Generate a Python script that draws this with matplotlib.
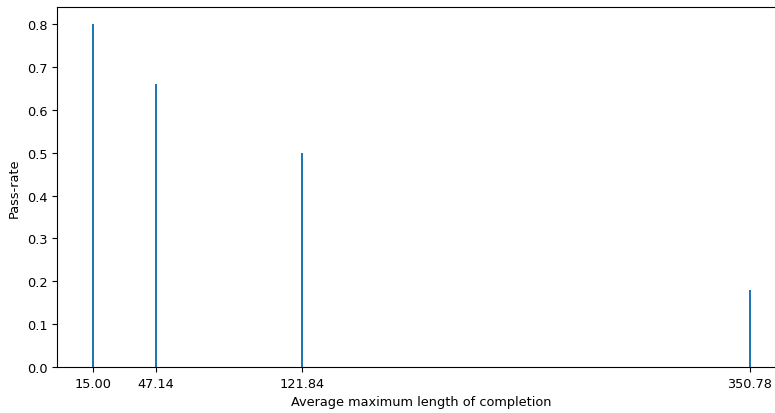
import matplotlib
matplotlib.use("Agg")
import matplotlib.pyplot as plt

lengths = [15.00, 47.14, 121.84, 350.78]
pass_rates = [0.80, 0.66, 0.50, 0.18]
tick_labels = ["15.00", "47.14", "121.84", "350.78"]

plt.rcParams["font.size"] = 9.3
W, H = 775, 414
fig = plt.figure(figsize=(W / 100, H / 100), dpi=100)
left, right, top, bottom = 57, 785, 8, 368
ax = fig.add_axes([left / W, 1 - bottom / H, (right - left) / W, (bottom - top) / H])
ax.bar(lengths, pass_rates, width=1.0, color="C0")
ax.set_xticks(lengths)
ax.set_xticklabels(tick_labels)
ax.set_xlim(-3.4, 368.7)
ax.set_ylim(0, 0.84)
ax.set_xlabel("Average maximum length of completion")
ax.set_ylabel("Pass-rate")
fig.savefig("out.png", dpi=100)
